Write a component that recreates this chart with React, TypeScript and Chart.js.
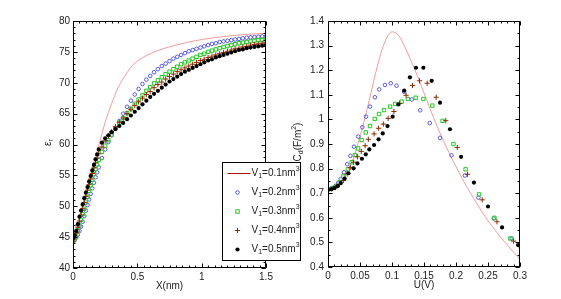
import React, { useEffect, useRef } from 'react';
import { Chart, registerables } from 'chart.js';
Chart.register(...registerables);

// ---------- Left panel: relative permittivity vs distance ----------
const xLeft = [0, 0.0125, 0.025, 0.0375, 0.05, 0.0625, 0.075, 0.0875, 0.1, 0.1125, 0.125, 0.1375, 0.15, 0.1625, 0.175, 0.1875, 0.2,
  0.225, 0.25, 0.275, 0.3,
  0.33, 0.36, 0.39, 0.42, 0.45, 0.48, 0.51, 0.54, 0.57, 0.6, 0.63, 0.66, 0.69, 0.72, 0.75, 0.78, 0.81, 0.84, 0.87, 0.9,
  0.93, 0.96, 0.99, 1.02, 1.05, 1.08, 1.11, 1.14, 1.17, 1.2, 1.23, 1.26, 1.29, 1.32, 1.35, 1.38, 1.41, 1.44, 1.47, 1.5];
const epsV2 = [44.3, 44.5, 44.9, 45.4, 46.0, 46.7, 47.5, 48.4, 49.3, 50.2, 51.1, 52.0, 52.9, 53.8, 54.7, 55.5, 56.3,
  57.8, 59.2, 60.4, 61.5,
  62.6, 63.8, 65.0, 66.1, 67.1, 68.1, 69.0, 69.8, 70.5, 71.1, 71.7, 72.2, 72.7, 73.1, 73.5, 73.9, 74.2, 74.5, 74.8, 75.1,
  75.3, 75.5, 75.7, 75.9, 76.1, 76.3, 76.4, 76.6, 76.7, 76.8, 76.9, 77.0, 77.1, 77.2, 77.3, 77.35, 77.4, 77.45, 77.5, 77.55];
const epsV3 = [44.4, 44.8, 45.4, 46.1, 46.9, 47.8, 48.7, 49.6, 50.6, 51.5, 52.5, 53.4, 54.3, 55.2, 56.0, 56.8, 57.5,
  58.8, 59.8, 60.7, 61.6,
  62.6, 63.5, 64.3, 65.1, 65.8, 66.6, 67.3, 68.0, 68.7, 69.3, 69.9, 70.4, 70.9, 71.4, 71.8, 72.2, 72.6, 73.0, 73.3, 73.6,
  73.9, 74.2, 74.5, 74.7, 75.0, 75.2, 75.4, 75.6, 75.8, 75.95, 76.1, 76.25, 76.4, 76.5, 76.6, 76.7, 76.8, 76.9, 76.95, 77.0];
const epsV4 = [44.3, 44.9, 45.7, 46.6, 47.6, 48.6, 49.6, 50.6, 51.6, 52.6, 53.5, 54.4, 55.3, 56.2, 57.0, 57.8, 58.5,
  59.6, 60.6, 61.4, 62.1,
  62.9, 63.6, 64.3, 65.0, 65.7, 66.3, 66.9, 67.5, 68.1, 68.6, 69.2, 69.7, 70.1, 70.6, 71.0, 71.4, 71.8, 72.1, 72.4, 72.7,
  73.0, 73.3, 73.6, 73.8, 74.1, 74.3, 74.5, 74.7, 74.9, 75.1, 75.3, 75.5, 75.6, 75.8, 75.9, 76.1, 76.2, 76.3, 76.4, 76.5];
const epsV5 = [44.8, 45.3, 46.0, 47.1, 48.3, 49.3, 50.3, 51.3, 52.2, 53.1, 54.0, 54.9, 55.8, 56.7, 57.6, 58.4, 59.2,
  60.3, 61.0, 61.5, 62.0,
  62.5, 63.0, 63.5, 64.1, 64.7, 65.3, 65.9, 66.5, 67.1, 67.7, 68.2, 68.7, 69.2, 69.7, 70.2, 70.6, 71.0, 71.4, 71.8, 72.1,
  72.4, 72.7, 73.0, 73.3, 73.6, 73.8, 74.1, 74.3, 74.5, 74.7, 74.9, 75.1, 75.3, 75.4, 75.6, 75.7, 75.8, 75.9, 76.0, 76.1];
const xLeftLine = [0, 0.05, 0.1, 0.15, 0.2, 0.25, 0.3, 0.35, 0.4, 0.45, 0.5, 0.6, 0.7, 0.8, 0.9, 1.0, 1.1, 1.2, 1.3, 1.4, 1.5];
const epsV1 = [44.5, 48.3, 52.2, 56.0, 59.8, 63.6, 66.6, 69.2, 71.0, 72.5, 73.5, 74.7, 75.5, 76.1, 76.6, 77.0, 77.3, 77.55, 77.75, 77.9, 78.0];

// ---------- Right panel: differential capacitance vs potential ----------
const uV1 = [0, 0.01, 0.02, 0.03, 0.04, 0.05, 0.06, 0.07, 0.08, 0.09, 0.1, 0.11, 0.12, 0.13, 0.14, 0.15, 0.16, 0.17, 0.18, 0.19, 0.2,
  0.21, 0.22, 0.23, 0.24, 0.25, 0.26, 0.27, 0.28, 0.29, 0.3];
const cV1 = [0.716, 0.724, 0.748, 0.79, 0.845, 0.93, 1.03, 1.14, 1.245, 1.322, 1.356, 1.342, 1.295, 1.237, 1.175, 1.108, 1.04, 0.975,
  0.915, 0.86, 0.808, 0.758, 0.712, 0.668, 0.627, 0.588, 0.553, 0.52, 0.49, 0.46, 0.432];
const uV2 = [0, 0.004, 0.008, 0.012, 0.016, 0.02, 0.025, 0.03, 0.035, 0.0406, 0.0474, 0.0536, 0.0594, 0.0656, 0.0734, 0.08, 0.089,
  0.098, 0.107, 0.119, 0.131, 0.144, 0.159, 0.175, 0.193, 0.214, 0.235, 0.259, 0.287];
const cV2 = [0.716, 0.718, 0.722, 0.73, 0.742, 0.758, 0.785, 0.818, 0.852, 0.889, 0.93, 0.968, 1.011, 1.052, 1.09, 1.122, 1.14,
  1.147, 1.137, 1.112, 1.081, 1.037, 0.985, 0.925, 0.854, 0.772, 0.682, 0.597, 0.516];
const uV3 = [0, 0.006, 0.012, 0.018, 0.024, 0.031, 0.037, 0.042, 0.047, 0.0526, 0.059, 0.0656, 0.073, 0.0797, 0.0875, 0.097, 0.105,
  0.115, 0.125, 0.137, 0.149, 0.163, 0.179, 0.196, 0.215, 0.236, 0.26, 0.285];
const cV3 = [0.716, 0.719, 0.727, 0.744, 0.768, 0.797, 0.826, 0.855, 0.882, 0.916, 0.947, 0.973, 1.002, 1.022, 1.038, 1.052, 1.063,
  1.072, 1.083, 1.088, 1.083, 1.056, 0.994, 0.9, 0.797, 0.695, 0.6, 0.516];
const uV4 = [0, 0.006, 0.012, 0.018, 0.024, 0.03, 0.035, 0.04, 0.046, 0.052, 0.058, 0.063, 0.072, 0.079, 0.0865, 0.094, 0.103,
  0.112, 0.122, 0.132, 0.143, 0.155, 0.169, 0.184, 0.202, 0.218, 0.241, 0.264, 0.29];
const cV4 = [0.714, 0.717, 0.723, 0.735, 0.752, 0.778, 0.805, 0.826, 0.848, 0.87, 0.893, 0.919, 0.941, 0.964, 0.981, 1.004, 1.032,
  1.065, 1.098, 1.138, 1.157, 1.147, 1.09, 0.995, 0.886, 0.777, 0.673, 0.584, 0.505];
const uV5 = [0, 0.005, 0.01, 0.015, 0.02, 0.026, 0.032, 0.04, 0.046, 0.053, 0.059, 0.0646, 0.072, 0.079, 0.0855, 0.093, 0.101,
  0.11, 0.119, 0.128, 0.1375, 0.149, 0.162, 0.175, 0.1906, 0.208, 0.228, 0.25, 0.272, 0.297];
const cV5 = [0.713, 0.716, 0.721, 0.729, 0.741, 0.759, 0.781, 0.801, 0.821, 0.84, 0.858, 0.878, 0.896, 0.919, 0.943, 0.973, 1.011,
  1.061, 1.117, 1.171, 1.21, 1.21, 1.157, 1.068, 0.96, 0.848, 0.743, 0.646, 0.561, 0.489];

const legendValues = ['0.1', '0.2', '0.3', '0.4', '0.5'];

const FONT = '"Liberation Sans", Arial, Helvetica, sans-serif';
const TXT = '#222';
const RED = '#e85a5a';
const BLUE = '#3838d0';
const GREEN = '#22c822';
const BROWN = '#8a2d00';
const BLACK = '#000000';

const zip = (xs: number[], ys: number[]) => xs.map((x, i) => ({ x, y: ys[i] }));

type Piece = { t: string; size: number; dy: number };

function drawPieces(ctx: CanvasRenderingContext2D, pieces: Piece[], x: number, y: number, align: 'left' | 'center') {
  let total = 0;
  const widths = pieces.map((p) => {
    ctx.font = `${p.size}px ${FONT}`;
    const w = ctx.measureText(p.t).width;
    total += w;
    return w;
  });
  let cx = align === 'center' ? x - total / 2 : x;
  ctx.textAlign = 'left';
  ctx.textBaseline = 'middle';
  pieces.forEach((p, i) => {
    ctx.font = `${p.size}px ${FONT}`;
    ctx.fillText(p.t, cx, y + p.dy);
    cx += widths[i];
  });
}

function range(min: number, max: number, step: number) {
  const out: number[] = [];
  const n = Math.round((max - min) / step);
  for (let i = 0; i <= n; i++) out.push(min + i * step);
  return out;
}

function makeFramePlugin(cfg: {
  xMajor: number; xMinor: number; yMajor: number; yMinor: number;
  xTitle: Piece[]; yTitle: Piece[]; yTitleX: number; legend?: boolean;
}) {
  return {
    id: 'frame',
    afterDraw(chart: any) {
      const { ctx, chartArea: a, scales } = chart;
      const xs = scales.x;
      const ys = scales.y;
      const L = Math.round(a.left) + 0.5;
      const R = Math.round(a.right) - 0.5;
      const T = Math.round(a.top) + 0.5;
      const B = Math.round(a.bottom) - 0.5;
      ctx.save();
      ctx.strokeStyle = '#000';
      ctx.lineWidth = 1;
      ctx.strokeRect(L, T, R - L, B - T);
      ctx.beginPath();
      const drawX = (v: number, len: number) => {
        const p = Math.round(xs.getPixelForValue(v)) + 0.5;
        ctx.moveTo(p, B); ctx.lineTo(p, B - len);
        ctx.moveTo(p, T); ctx.lineTo(p, T + len);
      };
      const drawY = (v: number, len: number) => {
        const p = Math.round(ys.getPixelForValue(v)) + 0.5;
        ctx.moveTo(L, p); ctx.lineTo(L + len, p);
        ctx.moveTo(R, p); ctx.lineTo(R - len, p);
      };
      range(xs.min, xs.max, cfg.xMinor).forEach((v) => drawX(v, 2));
      range(xs.min, xs.max, cfg.xMajor).forEach((v) => drawX(v, 4));
      range(ys.min, ys.max, cfg.yMinor).forEach((v) => drawY(v, 2));
      range(ys.min, ys.max, cfg.yMajor).forEach((v) => drawY(v, 4));
      ctx.stroke();

      ctx.fillStyle = TXT;
      drawPieces(ctx, cfg.xTitle, (a.left + a.right) / 2, a.bottom + 18, 'center');
      ctx.save();
      ctx.translate(cfg.yTitleX, (a.top + a.bottom) / 2 - 2);
      ctx.rotate(-Math.PI / 2);
      drawPieces(ctx, cfg.yTitle, 0, 0, 'center');
      ctx.restore();

      if (cfg.legend) {
        const x0 = Math.round(a.right) - 44 + 0.5;
        const y0 = Math.round(a.top) + 141 + 0.5;
        const w = 78;
        const h = 98;
        ctx.fillStyle = '#fff';
        ctx.fillRect(x0, y0, w, h);
        ctx.strokeStyle = '#000';
        ctx.lineWidth = 1;
        ctx.strokeRect(x0, y0, w, h);
        legendValues.forEach((val, i) => {
          const cy = y0 + 11 + i * 19;
          const sx = x0 + 15;
          ctx.save();
          if (i === 0) {
            ctx.strokeStyle = '#b01010';
            ctx.lineWidth = 1;
            ctx.beginPath();
            ctx.moveTo(x0 + 5, cy); ctx.lineTo(x0 + 28, cy);
            ctx.stroke();
          } else if (i === 1) {
            ctx.strokeStyle = BLUE; ctx.lineWidth = 0.8;
            ctx.beginPath(); ctx.arc(sx, cy, 1.8, 0, Math.PI * 2); ctx.stroke();
          } else if (i === 2) {
            ctx.strokeStyle = GREEN; ctx.lineWidth = 1;
            ctx.strokeRect(sx - 1.7, cy - 1.7, 3.4, 3.4);
          } else if (i === 3) {
            ctx.strokeStyle = BROWN; ctx.lineWidth = 1;
            ctx.beginPath();
            ctx.moveTo(sx - 2.6, cy); ctx.lineTo(sx + 2.6, cy);
            ctx.moveTo(sx, cy - 2.6); ctx.lineTo(sx, cy + 2.6);
            ctx.stroke();
          } else {
            ctx.fillStyle = BLACK;
            ctx.beginPath(); ctx.arc(sx, cy, 2.1, 0, Math.PI * 2); ctx.fill();
          }
          ctx.restore();
          ctx.fillStyle = TXT;
          drawPieces(ctx, [
            { t: 'V', size: 10, dy: 0 },
            { t: '1', size: 7, dy: 3 },
            { t: '=' + val + 'nm', size: 10, dy: 0 },
            { t: '3', size: 7, dy: -4 },
          ], x0 + 29, cy, 'left');
        });
      }
      ctx.restore();
    },
  };
}

function markerSets(p: { x: number; y: number }[][]) {
  return [
    { label: 'V1=0.5', data: p[4], pointStyle: 'circle', pointRadius: 2.1, pointBackgroundColor: BLACK, pointBorderColor: BLACK, pointBorderWidth: 0, order: 0 },
    { label: 'V1=0.4', data: p[3], pointStyle: 'cross', pointRadius: 2.6, pointBackgroundColor: 'transparent', pointBorderColor: BROWN, pointBorderWidth: 1, order: 1 },
    { label: 'V1=0.3', data: p[2], pointStyle: 'rect', pointRadius: 2.4, pointBackgroundColor: 'transparent', pointBorderColor: GREEN, pointBorderWidth: 1, order: 2 },
    { label: 'V1=0.2', data: p[1], pointStyle: 'circle', pointRadius: 1.8, pointBackgroundColor: 'transparent', pointBorderColor: BLUE, pointBorderWidth: 0.8, order: 3 },
    { label: 'V1=0.1', data: p[0], showLine: true, borderColor: RED, borderWidth: 0.6, pointRadius: 0, cubicInterpolationMode: 'monotone', order: 4 },
  ];
}

const fmt = (v: number | string) => String(Math.round(Number(v) * 1000) / 1000);

function axisOpts(min: number, max: number, step: number, pad: number, size: number, isX: boolean) {
  return {
    type: 'linear',
    min, max,
    grid: { display: false, drawTicks: false },
    border: { display: false },
    ticks: { stepSize: step, padding: pad, color: TXT, font: { family: FONT, size: 10 }, maxRotation: 0, autoSkip: false, callback: fmt },
    afterFit: (s: any) => { if (isX) s.height = size; else s.width = size; },
  };
}

function makeConfig(datasets: any[], padding: any, x: any, y: any, plugin: any) {
  return {
    type: 'scatter',
    data: { datasets },
    options: {
      animation: false,
      responsive: false,
      events: [],
      layout: { padding },
      plugins: { legend: { display: false }, tooltip: { enabled: false } },
      scales: { x, y },
    },
    plugins: [plugin],
  } as any;
}

export default function App() {
  const leftRef = useRef<HTMLCanvasElement>(null);
  const rightRef = useRef<HTMLCanvasElement>(null);

  useEffect(() => {
    const left = new Chart(leftRef.current!, makeConfig(
      markerSets([zip(xLeftLine, epsV1), zip(xLeft, epsV2), zip(xLeft, epsV3), zip(xLeft, epsV4), zip(xLeft, epsV5)]),
      { left: 43, right: 295, top: 21, bottom: 6 },
      axisOpts(0, 1.5, 0.5, 3, 25, true),
      axisOpts(40, 80, 5, 3, 30, false),
      makeFramePlugin({
        xMajor: 0.5, xMinor: 0.05, yMajor: 5, yMinor: 1,
        xTitle: [{ t: 'X(nm)', size: 10, dy: 0 }],
        yTitle: [{ t: 'ε', size: 10, dy: 0 }, { t: 'r', size: 7, dy: 3 }],
        yTitleX: 48, legend: true,
      }),
    ));
    const right = new Chart(rightRef.current!, makeConfig(
      markerSets([zip(uV1, cV1), zip(uV2, cV2), zip(uV3, cV3), zip(uV4, cV4), zip(uV5, cV5)]),
      { left: 298, right: 41, top: 21, bottom: 7 },
      axisOpts(0, 0.3, 0.05, 3, 25, true),
      axisOpts(0.4, 1.4, 0.1, 4, 30, false),
      makeFramePlugin({
        xMajor: 0.05, xMinor: 0.01, yMajor: 0.1, yMinor: 0.05,
        xTitle: [{ t: 'U(V)', size: 10, dy: 0 }],
        yTitle: [
          { t: 'C', size: 10, dy: 0 }, { t: 'd', size: 7, dy: 3 },
          { t: '(F/m', size: 10, dy: 0 }, { t: '2', size: 7, dy: -4 }, { t: ')', size: 10, dy: 0 },
        ],
        yTitleX: 298,
      }),
    ));
    return () => { left.destroy(); right.destroy(); };
  }, []);

  return (
    <div style={{ position: 'fixed', left: 0, top: 0, width: 561, height: 299, background: '#fff' }}>
      <canvas ref={leftRef} width={561} height={299} style={{ position: 'absolute', left: 0, top: 0 }} />
      <canvas ref={rightRef} width={561} height={299} style={{ position: 'absolute', left: 0, top: 0 }} />
    </div>
  );
}
